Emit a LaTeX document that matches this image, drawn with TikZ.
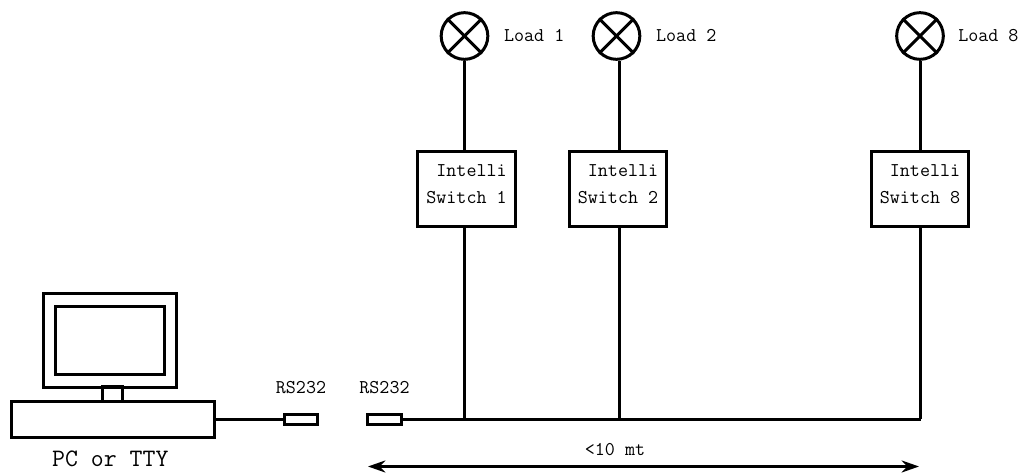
\documentclass[tikz,border=0pt]{standalone}
\usetikzlibrary{arrows.meta,positioning}
\newcommand{\lbl}[1]{\fontsize{14.6}{20}\selectfont\ttfamily #1}

\begin{document}
\begin{tikzpicture}[x=0.75pt, y=-0.75pt, line width=2.25pt, inner sep=0pt, node distance=12pt and 12pt,
      every node/.style={font=\lbl{}},
      lamp/.style={draw, circle, minimum size=35pt},
      switchbox/.style={draw, minimum width=73pt, minimum height=56pt, align=right, text depth=7pt, font=\lbl{}},
      plug/.style={draw, minimum width=25pt, minimum height=8pt},
      >={Stealth[length=13pt, width=9pt]}]
    \useasboundingbox (0,0) rectangle (1021,473);
    % computer
    \node[draw, minimum width=100pt, minimum height=70pt] (monitor) at (110,340.5) {};
    \node[draw, minimum width=82pt, minimum height=51pt] (screen) at (monitor.center) {};
    \node[draw, minimum width=152pt, minimum height=27pt] (base) at (113,419.5) {};
    \node[draw, minimum width=15pt, minimum height=11pt] (neck) at (112.5,394) {};
    \node[below=8pt of base, xshift=-2pt, font=\fontsize{18.8}{18.8}\selectfont\ttfamily] (pc) {PC or TTY};
    % plugs
    \node[plug] (plugA) at (301,419.5) {};
    \node[plug] (plugB) at (384.5,419.5) {};
    \node[above=13pt of plugA] (rsA) {RS232};
    \node[above=13pt of plugB] (rsB) {RS232};
    % loads and switches
    \node[lamp] (lamp1) at (464.5,36) {};
    \node[lamp] (lamp2) at (616.5,36) {};
    \node[lamp] (lamp3) at (920,36) {};
    \node[right=10pt of lamp1] (load1) {Load 1};
    \node[right=10pt of lamp2] (load2) {Load 2};
    \node[right=9pt of lamp3] (load3) {Load 8};
    \node[switchbox] (sw1) at (466.5,189) {Intelli\\Switch 1};
    \node[switchbox] (sw2) at (618,189) {Intelli\\Switch 2};
    \node[switchbox] (sw3) at (920,189) {Intelli\\Switch 8};
    % bus
    \coordinate (tap1) at (464.5,419.5);
    \coordinate (tap2) at (619.5,419.5);
    \coordinate (tap3) at (920.5,419.5);
    \foreach \n in {1,2,3} {
      \draw (lamp\n.45) -- (lamp\n.225);
      \draw (lamp\n.135) -- (lamp\n.315);
      \draw (tap\n |- lamp\n.south) -- (tap\n |- sw\n.north);
      \draw (tap\n |- sw\n.south) -- (tap\n);
    }
    \draw (base.east |- plugA) -- (plugA);
    \draw (plugB) -- (tap3);
    % length
    \coordinate (endA) at (368,466.5);
    \coordinate (endB) at (919,466.5);
    \draw[<->] (endA) -- (endB);
    \node (len) at (615,450) {<10 mt};
  \end{tikzpicture}
\end{document}
